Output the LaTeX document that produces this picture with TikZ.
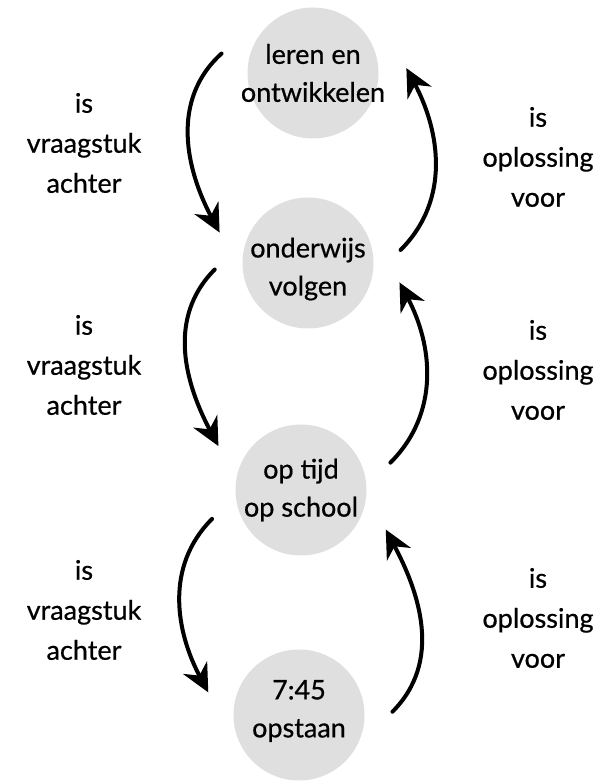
\documentclass[tikz,border=0pt]{standalone}
\usepackage{fontspec}
\setmainfont{Lato}[FakeBold=0.6]
\usepackage{xcolor}
\usetikzlibrary{arrows.meta}
\definecolor{blobgray}{RGB}{223,223,223}

\begin{document}
\begin{tikzpicture}[x=1pt,y=1pt,
  blob/.style={circle,fill=blobgray,minimum size=131pt,inner sep=0pt,outer sep=28pt},
  txt/.style={align=center,font=\fontsize{27}{38}\selectfont},
  lbl/.style={align=center,font=\fontsize{27}{40}\selectfont},
  arr/.style={-{Stealth[length=28pt,width=27pt,inset=9pt]},line width=4pt,line cap=round}]
  \useasboundingbox (0,0) rectangle (603,782);

  % the four steps, top to bottom
  \node[blob] (leren)     at (313,709) {};
  \node[blob] (onderwijs) at (308,519) {};
  \node[blob] (optijd)    at (301,292) {};
  \node[blob] (opstaan)   at (299,67)  {};

  \node[txt] (lerentxt)     at (leren)     {leren en\\ontwikkelen};
  \node[txt] (onderwijstxt) at ([yshift=-6pt]onderwijs) {onderwijs\\volgen};
  \node[txt] (optijdtxt)    at (optijd)    {op tijd\\op school};
  \node[txt] (opstaantxt)   at ([yshift=4pt]opstaan) {7:45\\opstaan};

  % downwards: is vraagstuk achter
  \draw[arr] (leren.168) to[out=222,in=118] (onderwijs.161);
  \draw[arr] (onderwijs.184) to[out=225,in=118] (optijd.152);
  \draw[arr] (optijd.198) to[out=225,in=118] (opstaan.166);

  \node[lbl] (vraag1) at (84,639) {is\\vraagstuk\\achter};
  \node[lbl] (vraag2) at (84,417) {is\\vraagstuk\\achter};
  \node[lbl] (vraag3) at (84,172) {is\\vraagstuk\\achter};

  % upwards: is oplossing voor
  \draw[arr] (onderwijs.8) to[out=45,in=-62] (leren.3);
  \draw[arr] (optijd.17) to[out=45,in=-62] (onderwijs.-12);
  \draw[arr] (opstaan.2) to[out=45,in=-62] (optijd.-25);

  \node[lbl] (oplos1) at (538,625) {is\\oplossing\\voor};
  \node[lbl] (oplos2) at (538,412) {is\\oplossing\\voor};
  \node[lbl] (oplos3) at (538,164) {is\\oplossing\\voor};
\end{tikzpicture}
\end{document}
